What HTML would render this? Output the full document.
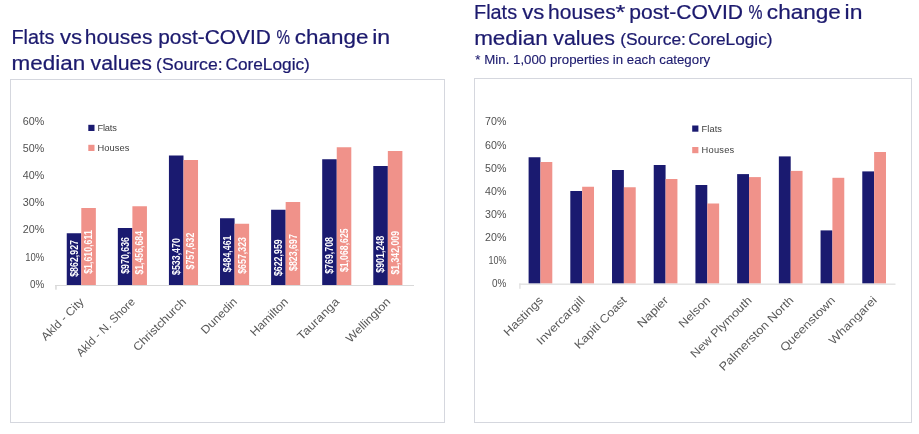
<!DOCTYPE html>
<html lang="en"><head><meta charset="utf-8"><title>Flats vs houses post-COVID % change in median values</title>
<style>
html,body{margin:0;padding:0;background:#fff;}
body{width:919px;height:434px;overflow:hidden;font-family:"Liberation Sans",sans-serif;}
svg{display:block;will-change:transform;}
svg text{font-family:"Liberation Sans",sans-serif;}
</style></head><body>
<svg width="919" height="434" viewBox="0 0 919 434">
<rect x="0" y="0" width="919" height="434" fill="#ffffff"/>
<text x="11.5" y="44.3" font-size="20" fill="#1c1a6e" textLength="42.94" lengthAdjust="spacingAndGlyphs" stroke="#1c1a6e" stroke-width="0.22">Flats</text>
<text x="59.91" y="44.3" font-size="20" fill="#1c1a6e" textLength="22.09" lengthAdjust="spacingAndGlyphs" stroke="#1c1a6e" stroke-width="0.22">vs</text>
<text x="84.84" y="44.3" font-size="20" fill="#1c1a6e" textLength="67.54" lengthAdjust="spacingAndGlyphs" stroke="#1c1a6e" stroke-width="0.22">houses</text>
<text x="158.19" y="44.3" font-size="20" fill="#1c1a6e" textLength="112.79" lengthAdjust="spacingAndGlyphs" stroke="#1c1a6e" stroke-width="0.22">post-COVID</text>
<text x="276.61" y="44.3" font-size="20" fill="#1c1a6e" textLength="13.48" lengthAdjust="spacingAndGlyphs" stroke="#1c1a6e" stroke-width="0.22">%</text>
<text x="294.87" y="44.3" font-size="20" fill="#1c1a6e" textLength="73.53" lengthAdjust="spacingAndGlyphs" stroke="#1c1a6e" stroke-width="0.22">change</text>
<text x="372.18" y="44.3" font-size="20" fill="#1c1a6e" textLength="18.0" lengthAdjust="spacingAndGlyphs" stroke="#1c1a6e" stroke-width="0.22">in</text>
<text x="11.59" y="69.8" font-size="20" fill="#1c1a6e" textLength="73.55" lengthAdjust="spacingAndGlyphs" stroke="#1c1a6e" stroke-width="0.22">median</text>
<text x="90.5" y="69.8" font-size="20" fill="#1c1a6e" textLength="61.5" lengthAdjust="spacingAndGlyphs" stroke="#1c1a6e" stroke-width="0.22">values</text>
<text x="156.1" y="69.8" font-size="16" fill="#1c1a6e" textLength="66.47" lengthAdjust="spacingAndGlyphs" stroke="#1c1a6e" stroke-width="0.22">(Source:</text>
<text x="225.46" y="69.8" font-size="16" fill="#1c1a6e" textLength="84.42" lengthAdjust="spacingAndGlyphs" stroke="#1c1a6e" stroke-width="0.22">CoreLogic)</text>
<text x="474.04" y="19.3" font-size="20" fill="#1c1a6e" textLength="43.04" lengthAdjust="spacingAndGlyphs" stroke="#1c1a6e" stroke-width="0.22">Flats</text>
<text x="522.32" y="19.3" font-size="20" fill="#1c1a6e" textLength="22.09" lengthAdjust="spacingAndGlyphs" stroke="#1c1a6e" stroke-width="0.22">vs</text>
<text x="548.08" y="19.3" font-size="20" fill="#1c1a6e" textLength="67.65" lengthAdjust="spacingAndGlyphs" stroke="#1c1a6e" stroke-width="0.22">houses</text>
<text x="615.56" y="19.3" font-size="20" fill="#1c1a6e" textLength="9.87" lengthAdjust="spacingAndGlyphs" stroke="#1c1a6e" stroke-width="0.22">*</text>
<text x="629.32" y="19.3" font-size="20" fill="#1c1a6e" textLength="113.72" lengthAdjust="spacingAndGlyphs" stroke="#1c1a6e" stroke-width="0.22">post-COVID</text>
<text x="748.59" y="19.3" font-size="20" fill="#1c1a6e" textLength="13.97" lengthAdjust="spacingAndGlyphs" stroke="#1c1a6e" stroke-width="0.22">%</text>
<text x="766.87" y="19.3" font-size="20" fill="#1c1a6e" textLength="73.99" lengthAdjust="spacingAndGlyphs" stroke="#1c1a6e" stroke-width="0.22">change</text>
<text x="844.61" y="19.3" font-size="20" fill="#1c1a6e" textLength="17.84" lengthAdjust="spacingAndGlyphs" stroke="#1c1a6e" stroke-width="0.22">in</text>
<text x="474.16" y="45.3" font-size="20" fill="#1c1a6e" textLength="73.67" lengthAdjust="spacingAndGlyphs" stroke="#1c1a6e" stroke-width="0.22">median</text>
<text x="553.29" y="45.3" font-size="20" fill="#1c1a6e" textLength="61.6" lengthAdjust="spacingAndGlyphs" stroke="#1c1a6e" stroke-width="0.22">values</text>
<text x="620.24" y="45.3" font-size="16" fill="#1c1a6e" textLength="65.64" lengthAdjust="spacingAndGlyphs" stroke="#1c1a6e" stroke-width="0.22">(Source:</text>
<text x="688.21" y="45.3" font-size="16" fill="#1c1a6e" textLength="84.3" lengthAdjust="spacingAndGlyphs" stroke="#1c1a6e" stroke-width="0.22">CoreLogic)</text>
<text x="475.37" y="64.0" font-size="12" fill="#1c1a6e" textLength="234.86" lengthAdjust="spacingAndGlyphs" stroke="#1c1a6e" stroke-width="0.12">* Min. 1,000 properties in each category</text>
<rect x="10.5" y="79.5" width="434" height="343" fill="#fff" stroke="#d5d7de" stroke-width="1"/>
<rect x="474.5" y="78.5" width="437" height="344" fill="#fff" stroke="#d5d7de" stroke-width="1"/>
<rect x="66.75" y="233.25" width="14.55" height="51.75" fill="#1a1a70"/>
<rect x="81.30" y="208" width="14.55" height="77.00" fill="#f0928a"/>
<rect x="117.84" y="228" width="14.55" height="57.00" fill="#1a1a70"/>
<rect x="132.39" y="206.25" width="14.55" height="78.75" fill="#f0928a"/>
<rect x="168.93" y="155.5" width="14.55" height="129.50" fill="#1a1a70"/>
<rect x="183.48" y="160" width="14.55" height="125.00" fill="#f0928a"/>
<rect x="220.02" y="218.25" width="14.55" height="66.75" fill="#1a1a70"/>
<rect x="234.57" y="223.75" width="14.55" height="61.25" fill="#f0928a"/>
<rect x="271.11" y="209.75" width="14.55" height="75.25" fill="#1a1a70"/>
<rect x="285.66" y="202" width="14.55" height="83.00" fill="#f0928a"/>
<rect x="322.20" y="159.25" width="14.55" height="125.75" fill="#1a1a70"/>
<rect x="336.75" y="147.25" width="14.55" height="137.75" fill="#f0928a"/>
<rect x="373.29" y="166" width="14.55" height="119.00" fill="#1a1a70"/>
<rect x="387.84" y="151" width="14.55" height="134.00" fill="#f0928a"/>
<rect x="55" y="285" width="359" height="1" fill="#d9d9d9"/>
<rect x="55.2" y="285" width="1.5" height="4.7" fill="#d9d9d9"/>
<text x="44.2" y="287.8" font-size="10.3" fill="#505050" text-anchor="end" textLength="14.3" lengthAdjust="spacingAndGlyphs">0%</text>
<text x="44.2" y="260.63" font-size="10.3" fill="#505050" text-anchor="end" textLength="19" lengthAdjust="spacingAndGlyphs">10%</text>
<text x="44.2" y="233.46" font-size="10.3" fill="#505050" text-anchor="end" textLength="21.5" lengthAdjust="spacingAndGlyphs">20%</text>
<text x="44.2" y="206.29000000000002" font-size="10.3" fill="#505050" text-anchor="end" textLength="21.5" lengthAdjust="spacingAndGlyphs">30%</text>
<text x="44.2" y="179.12" font-size="10.3" fill="#505050" text-anchor="end" textLength="21.5" lengthAdjust="spacingAndGlyphs">40%</text>
<text x="44.2" y="151.95" font-size="10.3" fill="#505050" text-anchor="end" textLength="21.5" lengthAdjust="spacingAndGlyphs">50%</text>
<text x="44.2" y="124.78" font-size="10.3" fill="#505050" text-anchor="end" textLength="21.5" lengthAdjust="spacingAndGlyphs">60%</text>
<rect x="88.3" y="124.8" width="6.2" height="6.2" fill="#1a1a70"/>
<rect x="88.3" y="144.8" width="6.2" height="6.2" fill="#f0928a"/>
<text x="97.5" y="130.7" font-size="9.3" fill="#404040" textLength="19.4" lengthAdjust="spacing">Flats</text>
<text x="97.5" y="150.7" font-size="9.3" fill="#404040" textLength="31.8" lengthAdjust="spacing">Houses</text>
<text transform="translate(77.72,276.8) rotate(-90)" font-size="10.6" font-weight="bold" fill="#fff" textLength="36.8" lengthAdjust="spacingAndGlyphs">$862,927</text>
<text transform="translate(92.28,273.8) rotate(-90)" font-size="10.6" font-weight="bold" fill="#fff" textLength="43.6" lengthAdjust="spacingAndGlyphs">$1,610,611</text>
<text transform="translate(128.81,273.8) rotate(-90)" font-size="10.6" font-weight="bold" fill="#fff" textLength="36.8" lengthAdjust="spacingAndGlyphs">$970,636</text>
<text transform="translate(143.36,274.6) rotate(-90)" font-size="10.6" font-weight="bold" fill="#fff" textLength="43.6" lengthAdjust="spacingAndGlyphs">$1,456,684</text>
<text transform="translate(179.91,275) rotate(-90)" font-size="10.6" font-weight="bold" fill="#fff" textLength="36.8" lengthAdjust="spacingAndGlyphs">$533,470</text>
<text transform="translate(194.46,269.5) rotate(-90)" font-size="10.6" font-weight="bold" fill="#fff" textLength="36.8" lengthAdjust="spacingAndGlyphs">$757,632</text>
<text transform="translate(230.99,272.3) rotate(-90)" font-size="10.6" font-weight="bold" fill="#fff" textLength="36.8" lengthAdjust="spacingAndGlyphs">$484,461</text>
<text transform="translate(245.54,273.8) rotate(-90)" font-size="10.6" font-weight="bold" fill="#fff" textLength="36.8" lengthAdjust="spacingAndGlyphs">$657,323</text>
<text transform="translate(282.09,276.1) rotate(-90)" font-size="10.6" font-weight="bold" fill="#fff" textLength="36.8" lengthAdjust="spacingAndGlyphs">$622,959</text>
<text transform="translate(296.63,271) rotate(-90)" font-size="10.6" font-weight="bold" fill="#fff" textLength="36.8" lengthAdjust="spacingAndGlyphs">$823,697</text>
<text transform="translate(333.18,273.8) rotate(-90)" font-size="10.6" font-weight="bold" fill="#fff" textLength="36.8" lengthAdjust="spacingAndGlyphs">$769,708</text>
<text transform="translate(347.72,272) rotate(-90)" font-size="10.6" font-weight="bold" fill="#fff" textLength="43.6" lengthAdjust="spacingAndGlyphs">$1,068,625</text>
<text transform="translate(384.27,272.7) rotate(-90)" font-size="10.6" font-weight="bold" fill="#fff" textLength="36.8" lengthAdjust="spacingAndGlyphs">$901,248</text>
<text transform="translate(398.81,274.6) rotate(-90)" font-size="10.6" font-weight="bold" fill="#fff" textLength="43.6" lengthAdjust="spacingAndGlyphs">$1,342,009</text>
<text transform="translate(84.60,302.5) rotate(-45)" font-size="11.5" fill="#595959" text-anchor="end" textLength="54.8" lengthAdjust="spacingAndGlyphs">Akld - City</text>
<text transform="translate(135.69,302.5) rotate(-45)" font-size="11.5" fill="#595959" text-anchor="end" textLength="77.5" lengthAdjust="spacingAndGlyphs">Akld - N. Shore</text>
<text transform="translate(186.78,302.5) rotate(-45)" font-size="11.5" fill="#595959" text-anchor="end" textLength="69.5" lengthAdjust="spacingAndGlyphs">Christchurch</text>
<text transform="translate(237.87,302.5) rotate(-45)" font-size="11.5" fill="#595959" text-anchor="end" textLength="45.7" lengthAdjust="spacingAndGlyphs">Dunedin</text>
<text transform="translate(288.96,302.5) rotate(-45)" font-size="11.5" fill="#595959" text-anchor="end" textLength="48.5" lengthAdjust="spacingAndGlyphs">Hamilton</text>
<text transform="translate(340.05,302.5) rotate(-45)" font-size="11.5" fill="#595959" text-anchor="end" textLength="54" lengthAdjust="spacingAndGlyphs">Tauranga</text>
<text transform="translate(391.14,302.5) rotate(-45)" font-size="11.5" fill="#595959" text-anchor="end" textLength="57.5" lengthAdjust="spacingAndGlyphs">Wellington</text>
<rect x="528.60" y="157.25" width="11.85" height="126.35" fill="#1a1a70"/>
<rect x="540.45" y="162" width="11.85" height="121.60" fill="#f0928a"/>
<rect x="570.31" y="191" width="11.85" height="92.60" fill="#1a1a70"/>
<rect x="582.16" y="186.75" width="11.85" height="96.85" fill="#f0928a"/>
<rect x="612.02" y="170" width="11.85" height="113.60" fill="#1a1a70"/>
<rect x="623.87" y="187.25" width="11.85" height="96.35" fill="#f0928a"/>
<rect x="653.73" y="165" width="11.85" height="118.60" fill="#1a1a70"/>
<rect x="665.58" y="179" width="11.85" height="104.60" fill="#f0928a"/>
<rect x="695.44" y="185" width="11.85" height="98.60" fill="#1a1a70"/>
<rect x="707.29" y="203.5" width="11.85" height="80.10" fill="#f0928a"/>
<rect x="737.15" y="174.1" width="11.85" height="109.50" fill="#1a1a70"/>
<rect x="749.00" y="177.1" width="11.85" height="106.50" fill="#f0928a"/>
<rect x="778.86" y="156.4" width="11.85" height="127.20" fill="#1a1a70"/>
<rect x="790.71" y="170.9" width="11.85" height="112.70" fill="#f0928a"/>
<rect x="820.57" y="230.4" width="11.85" height="53.20" fill="#1a1a70"/>
<rect x="832.42" y="177.8" width="11.85" height="105.80" fill="#f0928a"/>
<rect x="862.28" y="171.4" width="11.85" height="112.20" fill="#1a1a70"/>
<rect x="874.13" y="152" width="11.85" height="131.60" fill="#f0928a"/>
<rect x="519.2" y="283.5" width="376.3" height="1.4" fill="#e2e2e2"/>
<rect x="519.2" y="283.5" width="1.4" height="5.3" fill="#e2e2e2"/>
<text x="506.4" y="286.9" font-size="10.3" fill="#505050" text-anchor="end" textLength="14.3" lengthAdjust="spacingAndGlyphs">0%</text>
<text x="506.4" y="263.84" font-size="10.3" fill="#505050" text-anchor="end" textLength="18" lengthAdjust="spacingAndGlyphs">10%</text>
<text x="506.4" y="240.77999999999997" font-size="10.3" fill="#505050" text-anchor="end" textLength="21.3" lengthAdjust="spacingAndGlyphs">20%</text>
<text x="506.4" y="217.71999999999997" font-size="10.3" fill="#505050" text-anchor="end" textLength="21.3" lengthAdjust="spacingAndGlyphs">30%</text>
<text x="506.4" y="194.65999999999997" font-size="10.3" fill="#505050" text-anchor="end" textLength="21.3" lengthAdjust="spacingAndGlyphs">40%</text>
<text x="506.4" y="171.59999999999997" font-size="10.3" fill="#505050" text-anchor="end" textLength="21.3" lengthAdjust="spacingAndGlyphs">50%</text>
<text x="506.4" y="148.54" font-size="10.3" fill="#505050" text-anchor="end" textLength="21.3" lengthAdjust="spacingAndGlyphs">60%</text>
<text x="506.4" y="125.47999999999999" font-size="10.3" fill="#505050" text-anchor="end" textLength="21.3" lengthAdjust="spacingAndGlyphs">70%</text>
<rect x="692.2" y="125.5" width="6.2" height="6.2" fill="#1a1a70"/>
<rect x="692.2" y="147" width="6.2" height="6.2" fill="#f0928a"/>
<text x="701.6" y="131.9" font-size="9.3" fill="#404040" textLength="20.4" lengthAdjust="spacing">Flats</text>
<text x="701.6" y="153" font-size="9.3" fill="#404040" textLength="32.6" lengthAdjust="spacing">Houses</text>
<text transform="translate(543.95,301.0) rotate(-45)" font-size="11.5" fill="#595959" text-anchor="end" textLength="50.5" lengthAdjust="spacingAndGlyphs">Hastings</text>
<text transform="translate(585.66,301.0) rotate(-45)" font-size="11.5" fill="#595959" text-anchor="end" textLength="63" lengthAdjust="spacingAndGlyphs">Invercargill</text>
<text transform="translate(627.37,301.0) rotate(-45)" font-size="11.5" fill="#595959" text-anchor="end" textLength="68.5" lengthAdjust="spacingAndGlyphs">Kapiti Coast</text>
<text transform="translate(669.08,301.0) rotate(-45)" font-size="11.5" fill="#595959" text-anchor="end" textLength="38.5" lengthAdjust="spacingAndGlyphs">Napier</text>
<text transform="translate(710.79,301.0) rotate(-45)" font-size="11.5" fill="#595959" text-anchor="end" textLength="38.8" lengthAdjust="spacingAndGlyphs">Nelson</text>
<text transform="translate(752.50,301.0) rotate(-45)" font-size="11.5" fill="#595959" text-anchor="end" textLength="81.3" lengthAdjust="spacingAndGlyphs">New Plymouth</text>
<text transform="translate(794.21,301.0) rotate(-45)" font-size="11.5" fill="#595959" text-anchor="end" textLength="99.8" lengthAdjust="spacingAndGlyphs">Palmerston North</text>
<text transform="translate(835.92,301.0) rotate(-45)" font-size="11.5" fill="#595959" text-anchor="end" textLength="72.5" lengthAdjust="spacingAndGlyphs">Queenstown</text>
<text transform="translate(877.63,301.0) rotate(-45)" font-size="11.5" fill="#595959" text-anchor="end" textLength="62.5" lengthAdjust="spacingAndGlyphs">Whangarei</text>
</svg>
</body></html>
